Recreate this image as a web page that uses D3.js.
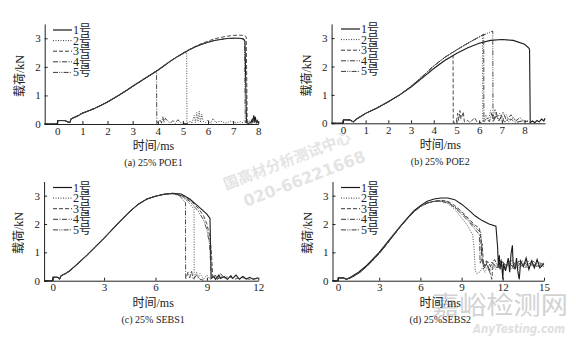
<!DOCTYPE html>
<html>
<head>
<meta charset="utf-8">
<script src="https://cdn.jsdelivr.net/npm/d3@7"></script>
<style>
body { margin: 0; background: #fff; }
svg text { font-family: "Liberation Serif", "Noto Sans CJK SC", serif; fill: #222; }
</style>
</head>
<body>
<div id="chart"></div>
<script>
// ---- data (t in ms, load in kN) ----
var seriesNames = ["1号", "2号", "3号", "4号", "5号"];
var yTicks = [0, 1, 2, 3];

// (a) 25% POE1
var riseA = [[-0.5,0],[0,0],[0.02,0.12],[0.3,0.12],[0.4,0.08],[0.5,0.05],[0.55,0.18],[0.7,0.24],[0.85,0.3],[1,0.38],[1.25,0.46],[1.5,0.55],[1.75,0.66],[2,0.77],[2.25,0.9],[2.5,1.03],[2.75,1.17],[3,1.32],[3.25,1.46],[3.5,1.6],[3.75,1.74],[4,1.88],[4.25,2.04],[4.5,2.2],[4.75,2.34],[5,2.47],[5.25,2.6],[5.5,2.7],[5.75,2.79],[6,2.86],[6.25,2.92],[6.5,2.96],[6.75,2.99],[7,3.0],[7.25,3.0],[7.4,2.98]];
var riseA3 = [[-0.5,0],[0,0],[0.02,0.12],[0.3,0.12],[0.4,0.08],[0.5,0.05],[0.55,0.18],[0.7,0.24],[0.85,0.3],[1,0.38],[1.5,0.55],[2,0.77],[2.5,1.03],[3,1.32],[3.5,1.6],[4,1.88],[4.5,2.2],[5,2.48],[5.5,2.72],[5.75,2.82],[6,2.9],[6.25,2.98],[6.5,3.03],[6.75,3.07],[7,3.1],[7.25,3.11],[7.45,3.1]];
var tailA1 = [[7.47,2.9],[7.5,1.5],[7.53,0.05],[7.6,0.02],[7.7,0.05],[7.75,0.15],[7.78,0.05],[7.82,0.3],[7.85,0.08],[7.88,0.25],[7.92,0.05],[7.96,0.12],[8,0.02]];
var tailA2 = [[5.15,2.52],[5.16,0.02],[5.3,0.1],[5.35,0.02],[5.45,0.3],[5.5,0.05],[5.55,0.4],[5.6,0.08],[5.65,0.45],[5.7,0.05],[5.75,0.35],[5.8,0.1],[5.9,0.05],[6.0,0.15],[6.1,0.02],[6.2,0.2],[6.3,0.05],[6.5,0.1],[6.7,0.03],[6.9,0.1],[7.1,0.04],[7.3,0.08],[7.45,0.02]];
var tailA3 = [[7.52,3.05],[7.56,0.05],[7.65,0.1],[7.75,0.02],[7.8,0.2],[7.85,0.05],[7.9,0.15],[8,0.03]];
var tailA4 = [[3.95,1.86],[3.96,0.02],[4.1,0.15],[4.15,0.03],[4.2,0.25],[4.25,0.05],[4.3,0.2],[4.4,0.1],[4.5,0.03],[4.6,0.12],[4.7,0.02],[4.8,0.15],[4.9,0.05],[5.0,0.02],[5.2,0.02]];
var tailA5 = [[7.45,2.95],[7.48,0.05],[7.6,0.1],[7.7,0.03],[7.8,0.15],[8,0.05]];

// (b) 25% POE2
var riseB = [[-0.5,0],[0,0],[0.02,0.12],[0.3,0.12],[0.45,0.05],[0.6,0.15],[0.8,0.25],[1,0.35],[1.5,0.54],[2,0.76],[2.5,1.0],[3,1.28],[3.5,1.6],[4,1.93],[4.5,2.22],[5,2.46],[5.5,2.66],[6,2.82],[6.5,2.92],[7,2.95],[7.5,2.92],[8,2.78],[8.2,2.64]];
var riseBup = [[-0.5,0],[0,0],[0.02,0.12],[0.3,0.12],[0.45,0.05],[0.6,0.15],[0.8,0.25],[1,0.35],[1.5,0.54],[2,0.76],[2.5,1.0],[3,1.3],[3.5,1.65],[4,2.02],[4.5,2.33],[5,2.58],[5.5,2.82],[6,3.04],[6.3,3.15],[6.6,3.25]];
var tailB1 = [[8.22,2.58],[8.25,0.03],[8.35,0.08],[8.45,0.02],[8.55,0.1],[8.65,0.05],[8.75,0.15],[8.85,0.08],[8.9,0.18]];
var tailB2 = [[6.15,3.12],[6.16,0.05],[6.3,0.3],[6.4,0.1],[6.5,0.45],[6.6,0.15],[6.7,0.5],[6.8,0.2],[6.9,0.35],[7.0,0.1],[7.2,0.3],[7.3,0.05],[7.5,0.2],[7.7,0.05],[8,0.1],[8.3,0.02]];
var tailB3 = [[4.85,2.38],[4.86,0.02],[5.0,0.05],[5.05,0.35],[5.1,0.1],[5.15,0.45],[5.2,0.15],[5.3,0.4],[5.35,0.05],[5.5,0.1],[5.6,0.02],[5.8,0.2],[5.9,0.05],[6.1,0.02]];
var tailB4 = [[6.2,3.14],[6.21,0.05],[6.35,0.2],[6.45,0.05],[6.55,0.35],[6.65,0.1],[6.75,0.4],[6.85,0.08],[7,0.25],[7.1,0.05],[7.4,0.15],[7.6,0.03],[7.9,0.08]];
var tailB5 = [[6.6,3.25],[6.61,0.05],[6.75,0.25],[6.9,0.1],[7.05,0.4],[7.2,0.1],[7.4,0.3],[7.6,0.08],[7.8,0.2],[8,0.05],[8.2,0.1]];

// (c) 25% SEBS1
var riseC = [[-0.5,0],[0,0],[0.02,0.12],[0.3,0.12],[0.4,0.06],[0.5,0.18],[0.75,0.25],[1,0.35],[1.5,0.62],[2,0.9],[2.5,1.2],[3,1.5],[3.5,1.82],[4,2.14],[4.5,2.44],[5,2.7],[5.5,2.88],[6,2.98],[6.5,3.05],[7,3.08]];
var tailC1 = [[7.5,3.06],[8,2.88],[8.5,2.62],[9.0,2.35],[9.18,2.2],[9.22,1.0],[9.25,0.08],[9.4,0.15],[9.5,0.05],[9.7,0.2],[9.8,0.08],[10,0.15],[10.2,0.05],[10.4,0.18],[10.5,0.08],[10.7,0.2],[10.9,0.05],[11.1,0.15],[11.3,0.06],[11.5,0.12],[11.7,0.05],[12,0.1]];
var tailC2 = [[7.5,3.0],[8.0,2.72],[8.25,2.52],[8.26,0.05],[8.4,0.3],[8.5,0.1],[8.6,0.25],[8.8,0.05],[9,0.2],[9.2,0.05]];
var tailC3 = [[7.5,3.02],[8,2.85],[8.5,2.55],[8.8,2.3],[9.0,2.0],[9.15,1.6],[9.25,1.1],[9.3,0.6],[9.35,0.1],[9.5,0.2],[9.6,0.05],[9.8,0.25],[10,0.1],[10.3,0.15],[10.6,0.05],[11,0.12],[11.5,0.05],[12,0.08]];
var tailC4 = [[7.4,3.0],[7.75,2.75],[7.76,0.05],[7.9,0.3],[8.0,0.1],[8.1,0.35],[8.2,0.05],[8.4,0.2],[8.6,0.05],[8.8,0.02]];
var tailC5 = [[7.5,3.0],[8,2.8],[8.5,2.45],[8.8,2.15],[9.0,1.8],[9.15,1.3],[9.22,0.6],[9.25,0.08],[9.4,0.18],[9.6,0.05],[9.9,0.15],[10.2,0.05]];

// (d) 25% SEBS2
var riseD = [[-0.4,0],[0,0],[0.02,0.1],[0.4,0.1],[0.6,0.05],[0.8,0.1],[1,0.15],[1.5,0.3],[2,0.5],[2.5,0.74],[3,1.0],[3.5,1.3],[4,1.6],[4.5,1.9],[5,2.18],[5.5,2.45],[6,2.65],[6.5,2.8],[7,2.88],[7.5,2.92],[8,2.92]];
var riseDlow = [[-0.4,0],[0,0],[0.02,0.1],[0.4,0.1],[0.6,0.05],[0.8,0.08],[1,0.12],[1.5,0.26],[2,0.46],[2.5,0.7],[3,0.96],[3.5,1.26],[4,1.57],[4.5,1.88],[5,2.16],[5.5,2.42],[6,2.62],[6.5,2.74],[7,2.8]];
var tailD1 = [[8.5,2.86],[9,2.7],[9.5,2.5],[10,2.28],[10.5,2.12],[11,2.0],[11.5,1.92],[11.62,1.2],[11.68,0.5],[11.75,0.9],[11.8,0.4],[11.9,0.7],[12,0.05],[12.05,0.6],[12.2,0.35],[12.4,0.8],[12.5,0.3],[12.6,0.95],[12.7,1.25],[12.75,0.6],[12.9,0.4],[13.0,0.8],[13.1,0.3],[13.2,0.05],[13.3,0.7],[13.5,0.5],[13.7,0.8],[13.9,0.4],[14.1,0.7],[14.3,0.45],[14.5,0.75],[14.7,0.45],[15,0.6]];
var tailD2 = [[7.5,2.8],[8,2.72],[8.5,2.52],[9,2.22],[9.5,1.9],[9.8,1.62],[9.9,1.2],[10,0.35],[10.1,0.25],[10.3,0.3],[10.5,0.45],[10.7,0.3],[10.9,0.5],[11.1,0.35],[11.3,0.55],[11.5,0.4],[11.7,0.6],[12,0.45],[12.3,0.6],[12.6,0.4],[12.9,0.55],[13.2,0.45],[13.5,0.6],[13.8,0.45],[14.1,0.6],[14.4,0.5],[14.7,0.55],[15,0.5]];
var tailD3 = [[7.5,2.84],[8,2.8],[8.5,2.65],[9,2.45],[9.5,2.2],[10,1.95],[10.3,1.85],[10.4,1.5],[10.45,0.9],[10.5,1.3],[10.6,0.5],[10.8,0.7],[11,0.4],[11.2,0.05],[11.3,0.6],[11.6,0.45],[11.9,0.75],[12.2,0.5],[12.5,0.7],[12.8,0.4],[13.1,0.65],[13.4,0.5],[13.8,0.7],[14.2,0.5],[14.6,0.65],[15,0.55]];
var tailD4 = [[7.5,2.8],[8,2.75],[8.5,2.58],[9,2.35],[9.5,2.1],[10,1.8],[10.3,1.62],[10.35,0.6],[10.5,0.8],[10.7,0.45],[10.9,0.7],[11.1,0.5],[11.4,0.75],[11.7,0.45],[12,0.65],[12.3,0.5],[12.7,0.75],[13,0.45],[13.4,0.7],[13.8,0.55],[14.2,0.7],[14.6,0.5],[15,0.65]];
var tailD5 = [[7.5,2.82],[8,2.78],[8.5,2.6],[9,2.4],[9.5,2.15],[10,1.88],[10.4,1.7],[10.5,0.8],[10.6,0.4],[10.8,0.6],[11,0.35],[11.2,0.65],[11.5,0.5],[11.8,0.7],[12.1,0.4],[12.4,0.6],[12.8,0.5],[13.2,0.7],[13.6,0.45],[14,0.65],[14.5,0.5],[15,0.6]];

// ---- chart ----
var width = 576, height = 346;
var dashes = [null, "1,1.5", "4,2", "5,1.5,1,1.5", "5,1.2,1,1.2,1,1.2"];

// a specimen follows the shared loading curve until its own tail starts
function join(rise, tail) {
    return rise.filter(function(p) { return p[0] < tail[0][0]; }).concat(tail);
}

var panels = [
    { caption: "(a) 25% POE1", xDomain: [-0.5, 8], xRange: [44.7, 258.3], yRange: [124, 24],
      xTicks: d3.range(0, 9), leg: [53, 30],
      series: [join(riseA, tailA1), join(riseA, tailA2), join(riseA3, tailA3), join(riseA, tailA4), join(riseA, tailA5)] },
    { caption: "(b) 25% POE2", xDomain: [-0.5, 8.9], xRange: [331.6, 545], yRange: [123.3, 23.9],
      xTicks: d3.range(0, 9), leg: [341, 29],
      series: [join(riseB, tailB1), join(riseBup, tailB2), join(riseB, tailB3), join(riseBup, tailB4), join(riseBup, tailB5)] },
    { caption: "(c) 25% SEBS1", xDomain: [-0.5, 12], xRange: [44.1, 258.3], yRange: [280.7, 181.5],
      xTicks: [0, 3, 6, 9, 12], leg: [53, 187.5],
      series: [join(riseC, tailC1), join(riseC, tailC2), join(riseC, tailC3), join(riseC, tailC4), join(riseC, tailC5)] },
    { caption: "(d) 25%SEBS2", xDomain: [-0.4, 15], xRange: [332.5, 544], yRange: [280.7, 181.5],
      xTicks: [0, 3, 6, 9, 12, 15], leg: [341, 187.5],
      series: [join(riseD, tailD1), join(riseDlow, tailD2), join(riseDlow, tailD3), join(riseDlow, tailD4), join(riseDlow, tailD5)] }
];

var svg = d3.select("#chart").append("svg")
    .attr("width", width)
    .attr("height", height);

svg.append("rect").attr("width", width).attr("height", height).attr("fill", "#fff");

// watermarks (faint, under the plots)
svg.append("text")
    .attr("transform", "translate(226,190) rotate(-21)")
    .style("font-family", "'Noto Sans CJK SC', sans-serif")
    .style("font-weight", "bold").style("font-size", "15px")
    .style("fill", "#e4e4e4")
    .text("国高材分析测试中心");
svg.append("text")
    .attr("transform", "translate(246,207) rotate(-21)")
    .style("font-family", "'DejaVu Sans', sans-serif")
    .style("font-weight", "bold").style("font-size", "16px")
    .style("fill", "#e4e4e4")
    .text("020-66221668");
svg.append("text")
    .attr("x", 432).attr("y", 314)
    .attr("textLength", 136).attr("lengthAdjust", "spacingAndGlyphs")
    .style("font-family", "'Noto Sans CJK SC', sans-serif")
    .style("font-size", "25px")
    .style("fill", "#d2d2d2")
    .text("嘉峪检测网");
svg.append("text")
    .attr("x", 473).attr("y", 333)
    .attr("textLength", 92).attr("lengthAdjust", "spacingAndGlyphs")
    .style("font-family", "'DejaVu Sans', sans-serif")
    .style("font-style", "italic").style("font-weight", "bold").style("font-size", "12px")
    .style("fill", "#e0e0e0")
    .text("AnyTesting.com");

panels.forEach(function(p) {
    var g = svg.append("g");
    var x = d3.scaleLinear().domain(p.xDomain).range(p.xRange);
    var y = d3.scaleLinear().domain([0, 3.5]).range(p.yRange);

    var line = d3.line()
        .x(function(d) { return x(d[0]); })
        .y(function(d) { return y(d[1]); });

    // curves
    p.series.forEach(function(s, i) {
        g.append("path")
            .datum(s)
            .attr("fill", "none")
            .attr("stroke", i === 0 ? "#1a1a1a" : "#3a3a3a")
            .attr("stroke-width", i === 0 ? 1.1 : 0.9)
            .attr("stroke-dasharray", dashes[i])
            .attr("d", line);
    });

    // axes, ticks pointing inward
    var xAxis = g.append("g")
        .attr("transform", "translate(0," + p.yRange[0] + ")")
        .call(d3.axisBottom(x).tickValues(p.xTicks).tickFormat(d3.format("d"))
            .tickSize(-3).tickSizeOuter(0).tickPadding(3));
    var yAxis = g.append("g")
        .attr("transform", "translate(" + p.xRange[0] + ",0)")
        .call(d3.axisLeft(y).tickValues(yTicks).tickFormat(d3.format("d"))
            .tickSize(-3).tickSizeOuter(0).tickPadding(4));
    [xAxis, yAxis].forEach(function(a) {
        a.selectAll("text").style("font-size", "11px");
        a.select(".domain").attr("stroke", "#222");
        a.selectAll(".tick line").attr("stroke", "#222");
    });

    // axis titles and caption
    var xMid = (p.xRange[0] + p.xRange[1]) / 2 + 2;
    g.append("text")
        .attr("x", xMid).attr("y", p.yRange[0] + 26)
        .attr("text-anchor", "middle")
        .style("font-size", "12px")
        .text("时间/ms");
    g.append("text")
        .attr("transform", "translate(" + (p.xRange[0] - 21) + "," + ((p.yRange[0] + p.yRange[1]) / 2 + 2) + ") rotate(-90)")
        .attr("text-anchor", "middle")
        .style("font-size", "12px")
        .text("载荷/kN");
    g.append("text")
        .attr("x", xMid).attr("y", p.yRange[0] + 42)
        .attr("text-anchor", "middle")
        .style("font-size", "10px")
        .text(p.caption);

    // legend
    var leg = g.append("g").attr("transform", "translate(" + p.leg[0] + "," + p.leg[1] + ")");
    seriesNames.forEach(function(name, i) {
        var row = leg.append("g").attr("transform", "translate(0," + (i * 10.6) + ")");
        row.append("line")
            .attr("x1", 0).attr("x2", 19)
            .attr("stroke", i === 0 ? "#1a1a1a" : "#3a3a3a")
            .attr("stroke-width", i === 0 ? 1.2 : 1)
            .attr("stroke-dasharray", dashes[i]);
        row.append("text")
            .attr("x", 20).attr("y", 4)
            .style("font-size", "12px")
            .text(name);
    });
});
</script>
</body>
</html>
